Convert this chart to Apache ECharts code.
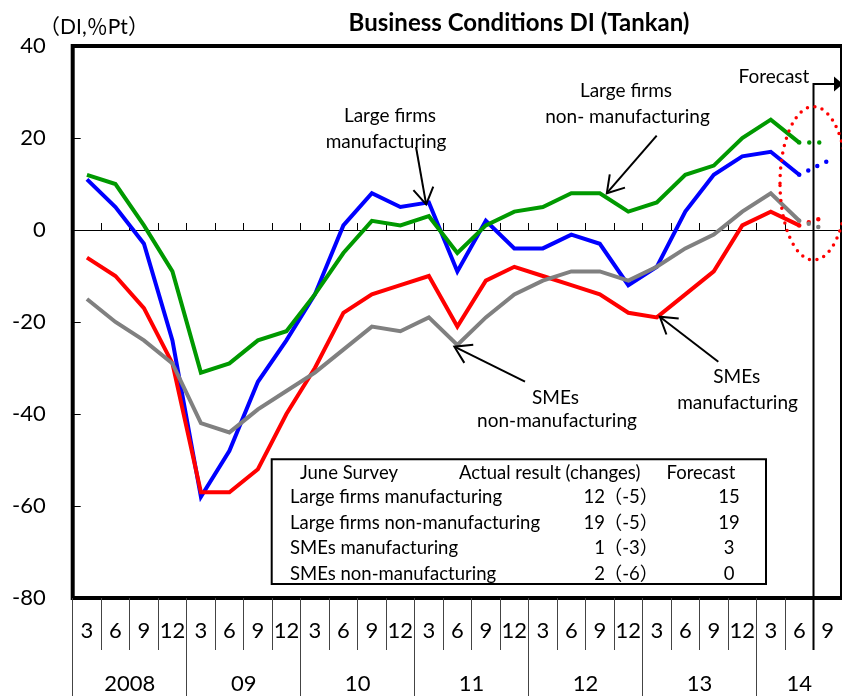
<!DOCTYPE html>
<html><head><meta charset="utf-8">
<script src="https://cdn.jsdelivr.net/npm/echarts@6/dist/echarts.min.js"></script>
<style>html,body{margin:0;padding:0;background:#fff}#c{width:842px;height:696px}</style>
</head><body><div id="c"></div>
<script>
// ---- data ----
const months = ['3','6','9','12','3','6','9','12','3','6','9','12','3','6','9','12','3','6','9','12','3','6','9','12','3','6','9'];
const years = ['2008','09','10','11','12','13','14'];
const yearStart = [0,4,8,12,16,20,24];
const yTicks = [-80,-60,-40,-20,0,20,40];
const largeMfg    = [11,5,-3,-24,-58,-48,-33,-24,-14,1,8,5,6,-9,2,-4,-4,-1,-3,-12,-8,4,12,16,17,12];
const largeNonMfg = [12,10,1,-9,-31,-29,-24,-22,-14,-5,2,1,3,-5,1,4,5,8,8,4,6,12,14,20,24,19];
const smeMfg      = [-6,-10,-17,-29,-57,-57,-52,-40,-30,-18,-14,-12,-10,-21,-11,-8,-10,-12,-14,-18,-19,-14,-9,1,4,1];
const smeNonMfg   = [-15,-20,-24,-29,-42,-44,-39,-35,-31,-26,-21,-22,-19,-25,-19,-14,-11,-9,-9,-11,-8,-4,-1,4,8,2];
const forecast    = {largeMfg:15, largeNonMfg:19, smeMfg:3, smeNonMfg:0};
const tableHeader = ['June Survey','Actual result (changes)','Forecast'];
const tableRows = [
  ['Large firms manufacturing', 12, -5, 15],
  ['Large firms non-manufacturing', 19, -5, 19],
  ['SMEs manufacturing', 1, -3, 3],
  ['SMEs non-manufacturing', 2, -6, 0]
];

const FONT = 'Lato, "Noto Sans CJK JP", sans-serif';
const chart = echarts.init(document.getElementById('c'), null, {renderer:'canvas'});

function fc(arr, f){
  const d = new Array(months.length).fill(null);
  d[arr.length-1] = arr[arr.length-1];
  d[arr.length] = f;
  return d;
}
const colors = {blue:'#0000ff', green:'#009900', red:'#ff0000', gray:'#808080'};
const seriesDefs = [
  ['Large firms manufacturing', largeMfg, forecast.largeMfg, colors.blue],
  ['Large firms non-manufacturing', largeNonMfg, forecast.largeNonMfg, colors.green],
  ['SMEs manufacturing', smeMfg, forecast.smeMfg, colors.red],
  ['SMEs non-manufacturing', smeNonMfg, forecast.smeNonMfg, colors.gray]
];
const series = [];
seriesDefs.forEach(([n, arr, f, c]) => {
  series.push({name:n, type:'line', data:arr, symbol:'none', xAxisIndex:0, yAxisIndex:0,
    lineStyle:{color:c, width:4, join:'miter'}, itemStyle:{color:c}, animation:false});
});
seriesDefs.forEach(([n, arr, f, c]) => {
  series.push({name:n+' forecast', type:'line', data:fc(arr,f), symbol:'none', xAxisIndex:0, yAxisIndex:0,
    connectNulls:false,
    lineStyle:{color:c, width:4.5, type:[0,10], cap:'round'}, animation:false});
});

const baseOption = {
  animation:false,
  backgroundColor:'#fff',
  title:{text:'Business Conditions DI (Tankan)', left:514, top:18, textAlign:'center', textVerticalAlign:'middle',
    textStyle:{fontFamily:FONT, fontSize:24, fontWeight:'bold', color:'#000'}},
  grid:{left:72.7, top:46, width:774, height:552, show:true, borderWidth:4, borderColor:'#000', backgroundColor:'transparent', containLabel:false},
  xAxis:[
    {type:'category', data:months, boundaryGap:true, position:'bottom',
      axisLine:{show:true, onZero:true, lineStyle:{color:'#000', width:1}},
      axisTick:{show:true, inside:true, length:7, interval:0, lineStyle:{color:'#000', width:1}},
      axisLabel:{show:false}, splitLine:{show:false}},
    {type:'category', data:months, boundaryGap:true, position:'bottom',
      axisLine:{show:false, onZero:false},
      axisTick:{show:true, inside:false, length:52, interval:0, lineStyle:{color:'#444', width:1}},
      axisLabel:{show:true, interval:0, fontSize:22, fontFamily:FONT, color:'#000', margin:22},
      splitLine:{show:false}},
    {type:'category', data:months, boundaryGap:true, position:'bottom',
      axisLine:{show:false, onZero:false},
      axisTick:{show:true, inside:false, length:98, interval:function(i){ return yearStart.indexOf(i) >= 0; }, lineStyle:{color:'#444', width:1}},
      axisLabel:{show:false}, splitLine:{show:false}}
  ],
  yAxis:[{type:'value', min:yTicks[0], max:yTicks[yTicks.length-1], interval:20,
    axisLine:{show:false},
    axisTick:{show:true, inside:true, length:8, lineStyle:{color:'#000', width:1}},
    axisLabel:{fontSize:22, fontFamily:FONT, color:'#000', margin:27},
    splitLine:{show:false}}],
  series:series
};
chart.setOption(baseOption);

const px = (k, v) => chart.convertToPixel({xAxisIndex:0, yAxisIndex:0}, [k, v]);
const g = [];
function txt(t, x, y, size, opt){
  g.push(Object.assign({type:'text', z:100, style:Object.assign({text:t, x:x, y:y, fill:'#000',
    font: size + 'px ' + FONT, align:'center', verticalAlign:'middle'}, opt||{})}));
}
function line(pts, w, color, z){
  g.push({type:'polyline', z:z||100, shape:{points:pts}, style:{stroke:color||'#000', lineWidth:w, fill:null}});
}
function arrow(tail, tip){
  line([tail, tip], 2);
  const dx = tail[0]-tip[0], dy = tail[1]-tip[1];
  const a = Math.atan2(dy, dx), L = 19, s = 32*Math.PI/180;
  line([[tip[0]+L*Math.cos(a+s), tip[1]+L*Math.sin(a+s)], tip, [tip[0]+L*Math.cos(a-s), tip[1]+L*Math.sin(a-s)]], 2);
}

// y-axis unit
txt('（DI,％Pt）', 94, 27, 21);

// year labels in the bottom row
years.forEach((y, i) => {
  const s = yearStart[i];
  const e = (i+1 < yearStart.length ? yearStart[i+1] : months.length) - 1;
  const cx = (px(s,0)[0] + px(e,0)[0]) / 2;
  txt(y, cx, 684, 22);
});

// forecast divider and arrow
const lastK = largeMfg.length - 1;
const divX = (px(lastK,0)[0] + px(lastK+1,0)[0]) / 2;
line([[divX, 650], [divX, 84], [840, 84]], 2);
g.push({type:'polygon', z:100, shape:{points:[[834,76.5],[843,84],[834,91.5]]}, style:{fill:'#000'}});
txt('Forecast', 774, 77, 19);

// dotted ellipse
g.push({type:'ellipse', z:100, shape:{cx:divX, cy:183.3, rx:33.5, ry:76.7},
  style:{stroke:'#ff0000', fill:null, lineWidth:3.5, lineDash:[0,7.6], lineCap:'round'}});

// annotations
const AF = 19;
txt('Large firms', 390, 116, AF); txt('manufacturing', 386, 141.5, AF);
let t = px(12, largeMfg[12]); arrow([416,147], [t[0]-2.7, t[1]+1.9]);
txt('Large firms', 626, 91, AF); txt('non- manufacturing', 627.5, 116.5, AF);
t = px(18, largeNonMfg[18]); arrow([656.7,135.7], [t[0]+7, t[1]]);
txt('SMEs', 555.5, 398.3, AF); txt('non-manufacturing', 557, 421, AF);
t = px(13, smeNonMfg[13]); arrow([525,381.7], [t[0]-3, t[1]+1.7]);
txt('SMEs', 736.7, 377.3, AF); txt('manufacturing', 737.5, 402.7, AF);
t = px(20, smeMfg[20]); arrow([718.3,361.7], [t[0]+3, t[1]-0.7]);

// table box
const TF = 18.5;
g.push({type:'rect', z:99, shape:{x:271.7, y:459.3, width:494.3, height:124.7}, style:{fill:'#fff', stroke:null}});
g.push({type:'rect', z:102, shape:{x:271.7, y:459.3, width:494.3, height:124.7}, style:{fill:null, stroke:'#000', lineWidth:2}});
txt(tableHeader[0], 300, 473, TF, {align:'left'});
txt(tableHeader[1], 459, 473, TF, {align:'left'});
txt(tableHeader[2], 701, 473, TF);
const rowY = [497, 523, 548.5, 574.5];
tableRows.forEach((r, i) => {
  txt(r[0], 290, rowY[i], TF, {align:'left'});
  txt(String(r[1]), 605, rowY[i], TF, {align:'right'});
  txt('（' + r[2] + '）', 631, rowY[i], TF);
  txt(String(r[3]), 729, rowY[i], TF);
});

chart.setOption({graphic:g});
</script></body></html>
